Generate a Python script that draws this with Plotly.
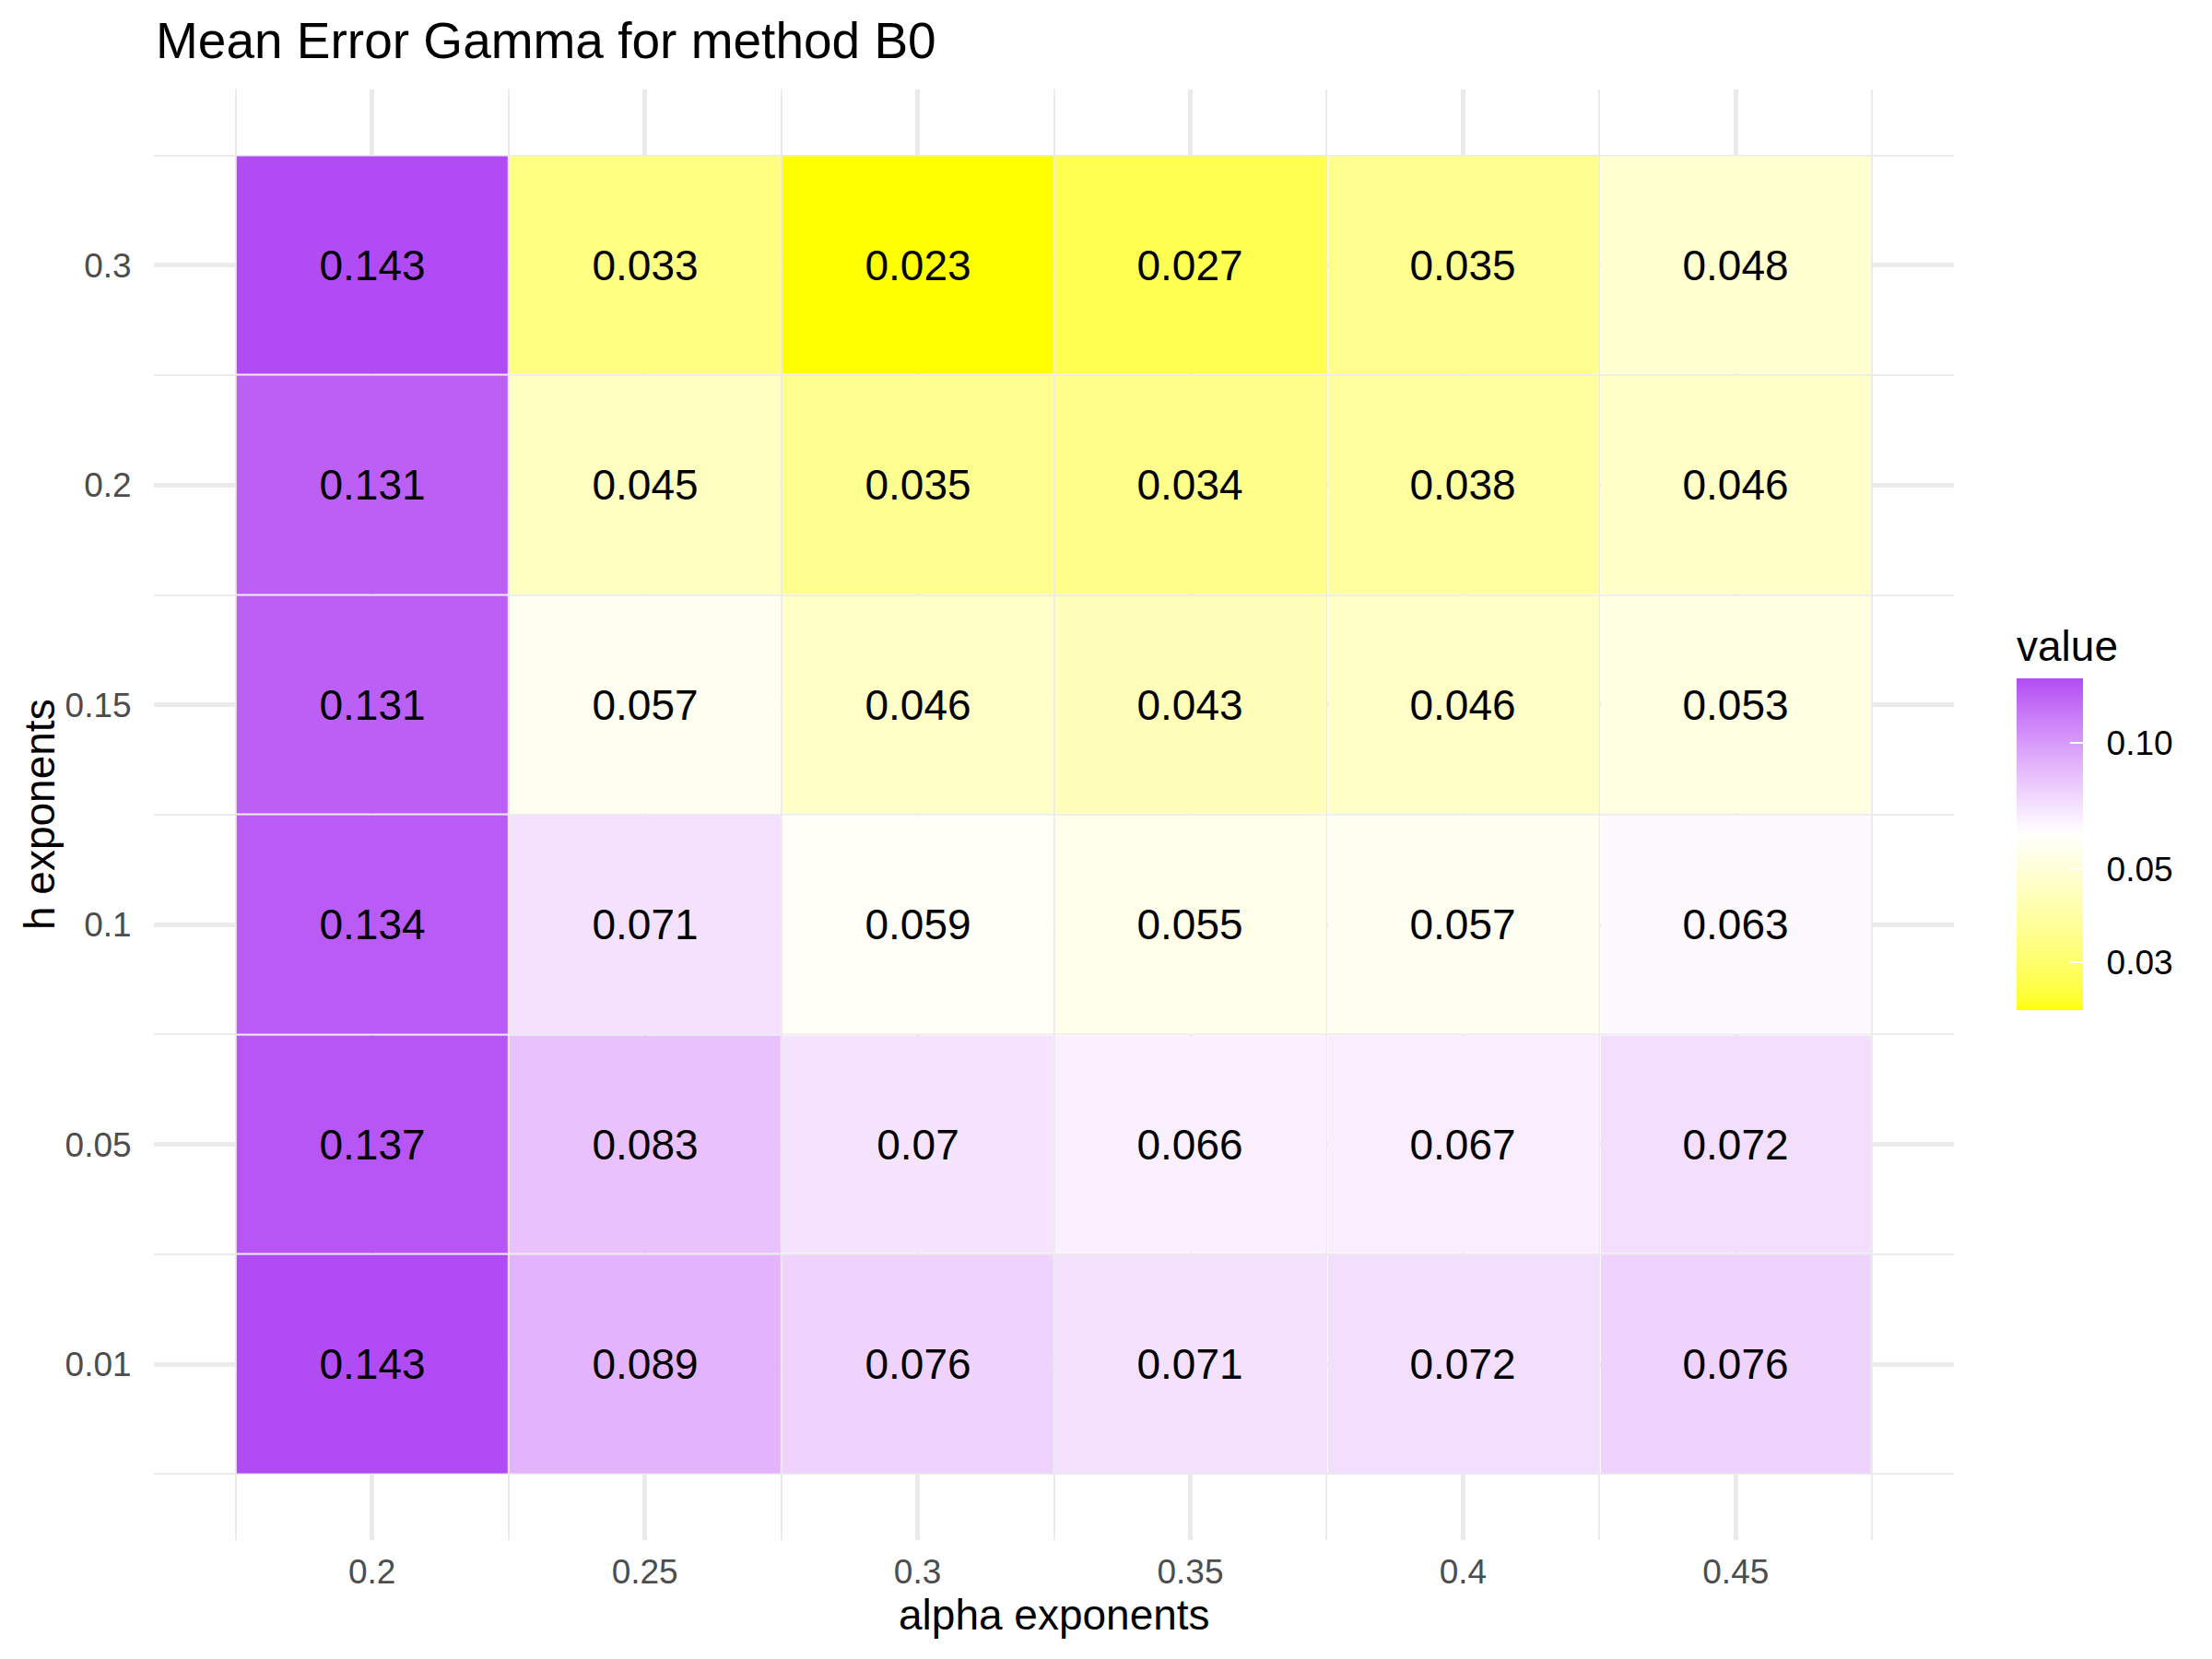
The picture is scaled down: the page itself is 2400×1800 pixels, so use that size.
import numpy as np
import plotly.graph_objects as go

# ---------------- data ----------------
alpha_exponents = [0.2, 0.25, 0.3, 0.35, 0.4, 0.45]
alpha_labels = ["0.2", "0.25", "0.3", "0.35", "0.4", "0.45"]
h_labels = ["0.01", "0.05", "0.1", "0.15", "0.2", "0.3"]   # bottom -> top
h_index = [1, 2, 3, 4, 5, 6]

# rows follow h_labels (bottom -> top), columns follow alpha_exponents
row_h001 = [0.143, 0.089, 0.076, 0.071, 0.072, 0.076]
row_h005 = [0.137, 0.083, 0.070, 0.066, 0.067, 0.072]
row_h010 = [0.134, 0.071, 0.059, 0.055, 0.057, 0.063]
row_h015 = [0.131, 0.057, 0.046, 0.043, 0.046, 0.053]
row_h020 = [0.131, 0.045, 0.035, 0.034, 0.038, 0.046]
row_h030 = [0.143, 0.033, 0.023, 0.027, 0.035, 0.048]
values = [row_h001, row_h005, row_h010, row_h015, row_h020, row_h030]

legend_breaks = [0.03, 0.05, 0.10]
legend_labels = ["0.03", "0.05", "0.10"]

# ---------------- colour scale (ggplot gradient2, Lab interpolation, log10) ----------------
def hex_to_rgb(h):
    h = h.lstrip("#")
    return [int(h[i:i + 2], 16) / 255.0 for i in (0, 2, 4)]

WHITE_REF = np.array([0.95047, 1.0, 1.08883])
M_RGB2XYZ = np.array([[0.4124564, 0.3575761, 0.1804375],
                      [0.2126729, 0.7151522, 0.0721750],
                      [0.0193339, 0.1191920, 0.9503041]])

def rgb_to_lab(rgb):
    c = np.array(rgb)
    c = np.where(c <= 0.04045, c / 12.92, ((c + 0.055) / 1.055) ** 2.4)
    xyz = M_RGB2XYZ @ c / WHITE_REF
    f = np.where(xyz > 216 / 24389, np.cbrt(xyz), (24389 / 27 * xyz + 16) / 116)
    return np.array([116 * f[1] - 16, 500 * (f[0] - f[1]), 200 * (f[1] - f[2])])

def lab_to_rgb(lab):
    L, a, b = lab
    fy = (L + 16) / 116
    fx = fy + a / 500
    fz = fy - b / 200
    f = np.array([fx, fy, fz])
    xyz = np.where(f ** 3 > 216 / 24389, f ** 3, (116 * f - 16) / (24389 / 27)) * WHITE_REF
    c = np.linalg.inv(M_RGB2XYZ) @ xyz
    c = np.clip(c, 0, 1)
    c = np.where(c <= 0.0031308, 12.92 * c, 1.055 * c ** (1 / 2.4) - 0.055)
    c = np.clip(c, 0, 1)
    return "rgb(%d,%d,%d)" % tuple(int(round(v * 255)) for v in c)

low_lab = rgb_to_lab(hex_to_rgb("#FFFF00"))
mid_lab = rgb_to_lab(hex_to_rgb("#FFFFFF"))
high_lab = rgb_to_lab(hex_to_rgb("#A020F0"))

def ramp(p):
    if p <= 0.5:
        t = p / 0.5
        return lab_to_rgb(low_lab + (mid_lab - low_lab) * t)
    t = (p - 0.5) / 0.5
    return lab_to_rgb(mid_lab + (high_lab - mid_lab) * t)

z = np.log10(np.array(values))
zmin, zmax = float(z.min()), float(z.max())
zmid = float(z.mean())
D = max(abs(zmin - zmid), abs(zmax - zmid))
colorscale = []
for t in np.linspace(0, 1, 41):
    zz = zmin + t * (zmax - zmin)
    p = 0.5 + (zz - zmid) / (2 * D)
    colorscale.append([float(t), ramp(p)])

text = [[f"{v:g}" for v in row] for row in values]

# ---------------- figure ----------------
FONT = "Liberation Sans, Arial, Helvetica, sans-serif"
W, H = 2400, 1800
L, R, T, B = 167, 280, 97, 129
pw, ph = W - L - R, H - T - B

fig = go.Figure(go.Heatmap(
    x=alpha_exponents, y=h_index, z=z,
    text=text, texttemplate="%{text}",
    textfont=dict(family=FONT, size=46, color="black"),
    colorscale=colorscale, zmin=zmin, zmax=zmax,
    xgap=2, ygap=2,
    colorbar=dict(
        title=dict(text="value", side="top", font=dict(family=FONT, size=46, color="black")),
        tickvals=list(np.log10(legend_breaks)),
        ticktext=["\u00a0\u2009" + s for s in legend_labels],
        tickfont=dict(family=FONT, size=37, color="black"),
        ticks="inside", ticklen=14, tickwidth=2, tickcolor="white",
        thickness=72, thicknessmode="pixels",
        len=417, lenmode="pixels",
        x=(2188 - L) / pw, xanchor="left",
        y=(H - B - 1096) / ph, yanchor="bottom",
        outlinewidth=0, xpad=0, ypad=0,
    ),
    hoverinfo="skip",
))

grid = "#EBEBEB"
minor_x = [a - 0.025 for a in alpha_exponents] + [alpha_exponents[-1] + 0.025]
minor_y = [i - 0.5 for i in h_index] + [h_index[-1] + 0.5]

fig.update_xaxes(
    range=[0.16, 0.49], tickmode="array", tickvals=alpha_exponents, ticktext=alpha_labels,
    tickfont=dict(family=FONT, size=37, color="#4D4D4D"),
    showgrid=True, gridcolor=grid, gridwidth=4.5, zeroline=False, showline=False,
    ticks="outside", ticklen=2, tickcolor="rgba(0,0,0,0)",
    minor=dict(tickmode="array", tickvals=minor_x, showgrid=True, gridcolor=grid, gridwidth=2, ticks=""),
)
fig.update_yaxes(
    range=[0.2, 6.8], tickmode="array", tickvals=h_index, ticktext=h_labels,
    tickfont=dict(family=FONT, size=37, color="#4D4D4D"),
    showgrid=True, gridcolor=grid, gridwidth=4.5, zeroline=False, showline=False,
    ticks="outside", ticklen=16, tickcolor="rgba(0,0,0,0)",
    minor=dict(tickmode="array", tickvals=minor_y, showgrid=True, gridcolor=grid, gridwidth=2, ticks=""),
)

fig.update_layout(
    width=W, height=H,
    margin=dict(l=L, r=R, t=T, b=B, autoexpand=False),
    paper_bgcolor="white", plot_bgcolor="white",
    font=dict(family=FONT),
    annotations=[
        dict(text="Mean Error Gamma for method B0", xref="paper", yref="paper",
             x=0, y=(H - B - 44) / ph, xanchor="left", yanchor="middle", showarrow=False,
             font=dict(family=FONT, size=55, color="black")),
        dict(text="alpha exponents", xref="paper", yref="paper",
             x=0.5, y=(H - B - 1752) / ph, xanchor="center", yanchor="middle", showarrow=False,
             font=dict(family=FONT, size=46, color="black")),
        dict(text="h exponents", xref="paper", yref="paper", textangle=-90,
             x=(43 - L) / pw, y=0.5, xanchor="center", yanchor="middle", showarrow=False,
             font=dict(family=FONT, size=46, color="black")),
    ],
)

fig.write_html("out.html")
